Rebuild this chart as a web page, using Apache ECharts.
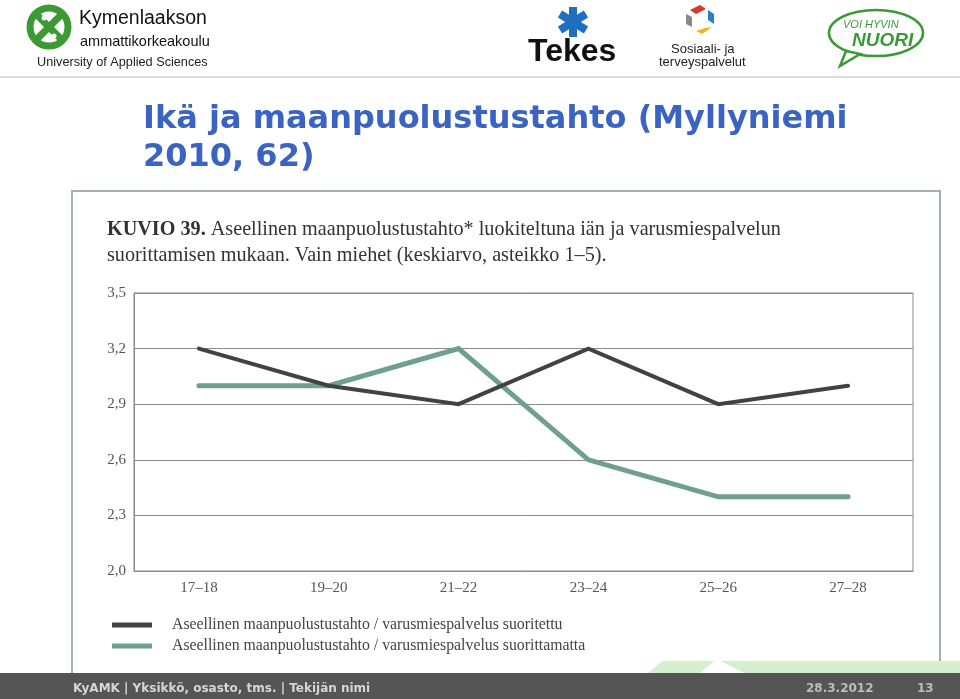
<!DOCTYPE html>
<html><head><meta charset="utf-8">
<script src="https://cdn.jsdelivr.net/npm/echarts@6/dist/echarts.min.js"></script>
<style>html,body{margin:0;padding:0;background:#fff}#c{width:960px;height:699px}</style>
</head><body><div id="c"></div>
<script>
const categories = ['17–18','19–20','21–22','23–24','25–26','27–28'];
const suoritettu = [3.2, 3.0, 2.9, 3.2, 2.9, 3.0];
const suorittamatta = [3.0, 3.0, 3.2, 2.6, 2.4, 2.4];
const seriesNames = ['Aseellinen maanpuolustustahto / varusmiespalvelus suoritettu','Aseellinen maanpuolustustahto / varusmiespalvelus suorittamatta'];
const yMin = 2.0, yMax = 3.5, yStep = 0.3;

const chart = echarts.init(document.getElementById('c'), null, {renderer:'canvas'});
const serif = '"Liberation Serif", "DejaVu Serif", serif';
const green = '#6f9f8e', dark = '#424242';
chart.setOption({
  animation:false,
  backgroundColor:'#ffffff',
  grid:{left:134, right:47, top:293, bottom:128, show:true, borderColor:'#8a8a8a', borderWidth:1},
  xAxis:{type:'category', data:categories, boundaryGap:true,
    axisLine:{lineStyle:{color:'#8a8a8a'}}, axisTick:{show:false},
    axisLabel:{fontFamily:serif, fontSize:15, color:'#555', margin:10}},
  yAxis:{type:'value', min:yMin, max:yMax, interval:yStep,
    axisLine:{show:true, lineStyle:{color:'#8a8a8a'}}, axisTick:{show:false},
    splitLine:{lineStyle:{color:'#8a8a8a', width:1}},
    axisLabel:{fontFamily:serif, fontSize:15, color:'#555', margin:8, padding:[3,0,0,0],
      formatter:v=>v.toFixed(1).replace('.',',')}},
  legend:{orient:'vertical', left:112, top:617, padding:0, itemGap:5, itemWidth:40, itemHeight:5, icon:'rect',
    textStyle:{fontFamily:serif, fontSize:15.8, color:'#444', padding:[0,0,0,15]},
    data:[{name:seriesNames[0], itemStyle:{color:dark}},{name:seriesNames[1], itemStyle:{color:green}}]},
  series:[
    {name:seriesNames[1], type:'line', data:suorittamatta, symbol:'none', color:green,
     lineStyle:{color:green, width:5, cap:'round', join:'miter'}, z:2},
    {name:seriesNames[0], type:'line', data:suoritettu, symbol:'none', color:dark,
     lineStyle:{color:dark, width:4, cap:'round', join:'miter'}, z:3}
  ],
  graphic:[
    // header separator
    {type:'rect', shape:{x:0,y:76,width:960,height:2}, style:{fill:'#dcdcdc'}, silent:true},
    // KyAMK logo
    {type:'circle', shape:{cx:49,cy:27,r:19}, style:{fill:'none', stroke:'#3c9a35', lineWidth:7}},
    {type:'line', shape:{x1:36,y1:14,x2:62,y2:40}, style:{stroke:'#3c9a35', lineWidth:7}},
    {type:'line', shape:{x1:62,y1:14,x2:36,y2:40}, style:{stroke:'#3c9a35', lineWidth:7}},
    {type:'circle', shape:{cx:44,cy:18,r:2.5}, style:{fill:'#fff'}},
    {type:'circle', shape:{cx:54,cy:36,r:2.5}, style:{fill:'#fff'}},
    {type:'text', left:79, top:9, style:{text:'Kymenlaakson', font:'19.5px "Liberation Sans", Arial, sans-serif', fill:'#111'}},
    {type:'text', left:80, top:34, style:{text:'ammattikorkeakoulu', font:'14.5px "Liberation Sans", Arial, sans-serif', fill:'#111'}},
    {type:'text', left:37, top:56, style:{text:'University of Applied Sciences', font:'12.7px "Liberation Sans", Arial, sans-serif', fill:'#222'}},
    // Tekes
    {type:'line', shape:{x1:573,y1:7,x2:573,y2:37}, style:{stroke:'#1f6fc0', lineWidth:8}},
    {type:'line', shape:{x1:560,y1:14,x2:586,y2:30}, style:{stroke:'#1f6fc0', lineWidth:8}},
    {type:'line', shape:{x1:560,y1:30,x2:586,y2:14}, style:{stroke:'#1f6fc0', lineWidth:8}},
    {type:'text', left:528, top:36, style:{text:'Tekes', font:'bold 32px "Liberation Sans", Arial, sans-serif', fill:'#111'}},
    // Sosiaali logo
    {type:'polygon', shape:{points:[[690,10],[700,5],[706,9],[696,14]]}, style:{fill:'#d9372c'}},
    {type:'polygon', shape:{points:[[708,10],[714,14],[714,24],[708,20]]}, style:{fill:'#2a7fc6'}},
    {type:'polygon', shape:{points:[[705,28],[712,27],[702,34],[696,31]]}, style:{fill:'#f0b323'}},
    {type:'polygon', shape:{points:[[686,14],[692,17],[692,27],[686,24]]}, style:{fill:'#888'}},
    {type:'text', left:671, top:43, style:{text:'Sosiaali- ja', font:'13px "Liberation Sans", Arial, sans-serif', fill:'#222'}},
    {type:'text', left:659, top:56, style:{text:'terveyspalvelut', font:'13px "Liberation Sans", Arial, sans-serif', fill:'#222'}},
    // Voi hyvin nuori
    {type:'ellipse', shape:{cx:876,cy:33,rx:47,ry:23}, style:{fill:'none', stroke:'#3a9a34', lineWidth:2.5}},
    {type:'polygon', shape:{points:[[846,51],[840,66],[860,54]]}, style:{fill:'#fff', stroke:'#3a9a34', lineWidth:2.5}},
    {type:'text', left:843, top:19, style:{text:'VOI HYVIN', font:'italic 11px "Liberation Sans", Arial, sans-serif', fill:'#3a9a34'}},
    {type:'text', left:852, top:31, style:{text:'NUORI', font:'italic bold 19px "Liberation Sans", Arial, sans-serif', fill:'#3a9a34'}},
    // Title
    {type:'text', left:143, top:104, style:{text:'Ikä ja maanpuolustustahto (Myllyniemi', font:'bold 32px "DejaVu Sans", Verdana, sans-serif', fill:'#3b63c1'}},
    {type:'text', left:143, top:142, style:{text:'2010, 62)', font:'bold 32px "DejaVu Sans", Verdana, sans-serif', fill:'#3b63c1'}},
    // figure frame
    {type:'rect', shape:{x:72,y:191,width:868,height:490}, style:{fill:'none', stroke:'#a3b1ac', lineWidth:2}, z:-1},
    {type:'text', left:107, top:220, style:{text:'{b|KUVIO 39.} Aseellinen maanpuolustustahto* luokiteltuna iän ja varusmiespalvelun', font:'20.2px '+serif, fill:'#333', rich:{b:{fontWeight:'bold', fontSize:20.2, fontFamily:serif, fill:'#333'}}}},
    {type:'text', left:107, top:246, style:{text:'suorittamisen mukaan. Vain miehet (keskiarvo, asteikko 1–5).', font:'20.2px '+serif, fill:'#333'}},
    // footer
    {type:'polygon', shape:{points:[[648,673],[662,661],[960,661],[960,673]]}, style:{fill:'#d5efcf'}, z:5},
    {type:'polygon', shape:{points:[[700,673],[717,659],[744,673]]}, style:{fill:'#ffffff'}, z:6},
    {type:'rect', shape:{x:0,y:673,width:960,height:26}, style:{fill:'#555555'}, z:7},
    {type:'text', left:73, top:683, style:{text:'KyAMK | Yksikkö, osasto, tms. | Tekijän nimi', font:'bold 12px "DejaVu Sans", Verdana, sans-serif', fill:'#d6d6d6'}, z:8},
    {type:'text', left:806, top:683, style:{text:'28.3.2012', font:'bold 12px "DejaVu Sans", Verdana, sans-serif', fill:'#bdbdbd'}, z:8},
    {type:'text', left:917, top:683, style:{text:'13', font:'bold 12px "DejaVu Sans", Verdana, sans-serif', fill:'#bdbdbd'}, z:8}
  ]
});
</script></body></html>
